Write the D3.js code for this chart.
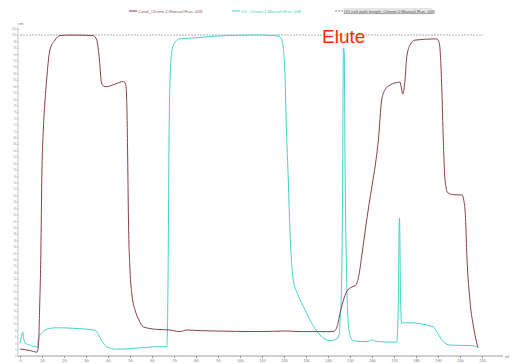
<!DOCTYPE html>
<html lang="en">
<head>
<meta charset="utf-8">
<script src="https://d3js.org/d3.v7.min.js"></script>
<style>
  body { margin: 0; background: #fff; }
  svg { display: block; font-family: "Liberation Sans", Arial, sans-serif; }
</style>
</head>
<body>
<div id="chart"></div>
<script>
// Cond trace: [ml, signal]
var condData = [
  [0,2.2],[4.5,1.7],[7.7,1.2],[8.4,3.4],[8.9,14.3],[9.5,33],[9.9,54.8],[10.6,70.4],[11.4,79.8],
  [12.1,86],[13.6,95.3],[15.9,98.4],[18.2,99.8],[22.7,100],[33.3,99.8],[34.9,98.4],[35.9,93.8],
  [37.1,85],[38.2,84],[39.4,83.9],[43.2,84.7],[47,85.5],[48,84.7],[48.5,79.8],[48.9,64.2],
  [49.3,42.4],[50,26.8],[50.9,19],[52.3,14.3],[54.1,11.2],[56,9.1],[62.1,8.3],[68.2,8.1],
  [72.7,7.6],[75.8,8.1],[81.8,7.9],[87.7,7.8],[109.1,7.6],[120.5,7.8],[127.3,7.6],[142.3,7.6],
  [143.9,8.7],[145.5,13.4],[146.8,16.9],[148.6,20.2],[150.9,21.5],[152.7,22.1],[154,25],
  [155.5,32],[157,39.5],[158.6,47],[160,53],[161.5,59.5],[162.9,67.3],[164.4,79.8],[165.9,82.9],[168.2,84.4],
  [172.7,85.3],[174,81.6],[175,86],[175.8,93.2],[177.3,96.9],[179.5,98.4],[189.4,98.8],
  [190.6,97.4],[191.7,83.9],[192.4,67.3],[193.2,54.8],[194.5,50.8],[197.7,50.2],[200.9,50.2],
  [202.3,45.5],[203.2,29.9],[204.5,17.4],[206.4,8.1],[208.2,2.5]
];

// UV trace: [ml, signal]
var uvData = [
  [0,4],[0.7,6.2],[1.2,7.5],[1.8,5],[2.3,4],[4.5,3.4],[6,2.9],[6.8,3.1],[7.7,2.6],[8.3,5],
  [9.5,6.9],[10.5,7.6],[13.6,8.6],[16.7,8.8],[25,8.6],[33.3,8.1],[34.9,7.6],[36.4,5.6],
  [39.4,2.9],[44,2.1],[51.5,2.4],[63.6,2.9],[66.7,2.9],[67,8.1],[67.4,33],[67.7,64.2],
  [68.2,86],[69.1,95.3],[70.5,97.8],[72.7,98.8],[79.5,99.1],[86.4,99.5],[93.2,99.8],
  [109.1,100],[117.3,99.7],[118.6,99.1],[119.5,96.9],[120.5,86],[121.1,70.4],[121.8,57.9],
  [122.7,39.3],[124.2,23.7],[126.4,19],[128.8,15.4],[131.8,11.2],[136.4,6.5],[140.9,4.8],
  [144,5.3],[145,6.5],[145.5,11.2],[146.2,23.7],[146.6,48.6],[147,96],[147.4,94.5],
  [147.7,64.2],[148.5,23.7],[149.1,11.2],[150,6.5],[151.4,4.7],[157.6,4.5],[159.9,5],
  [162.1,4.5],[171.2,4.3],[172,17.4],[172.3,39.3],[172.5,43],[173,17.4],[173.5,10.2],
  [175.8,10.4],[187.9,9.1],[189.4,7.6],[192.4,4.5],[195.5,3.4],[205.9,3.2],[207.6,2.9]
];

// UV cell path length (constant)
var pathLen = [[0,100],[210.5,100]];

var xTicks = d3.range(0, 211, 10);
var yTicks = d3.range(0, 103, 2);

var seriesNames = ["Cond_Chrom:1:Manual Run..008", "UV_Chrom:1:Manual Run..008", "UV cell path length_Chrom:1:Manual Run..008"];

var width = 526, height = 364;

var svg = d3.select("#chart").append("svg")
    .attr("width", width)
    .attr("height", height);

var x = d3.scaleLinear().domain([0, 210]).range([20, 482]);
var y = d3.scaleLinear().domain([0, 100]).range([356, 35]);

// X axis
var xAxis = svg.append("g")
    .attr("transform", "translate(0,356)")
    .call(d3.axisBottom(x).tickValues(xTicks).tickSize(2).tickPadding(1));
xAxis.select(".domain").remove();
xAxis.selectAll("line").attr("stroke", "#999");
xAxis.selectAll("text").attr("fill", "#777").style("font-size", "4px");
svg.append("line")
    .attr("x1", 18).attr("x2", 503).attr("y1", 356).attr("y2", 356)
    .attr("stroke", "#888").attr("stroke-width", 0.8);
svg.append("text").attr("x", 505).attr("y", 358)
    .attr("fill", "#777").style("font-size", "4px").text("ml");

// Y axis
var yAxis = svg.append("g")
    .attr("transform", "translate(18,0)")
    .call(d3.axisLeft(y).tickValues(yTicks).tickSize(1).tickPadding(0.5));
yAxis.select(".domain").remove();
yAxis.selectAll("line").attr("stroke", "#aaa");
yAxis.selectAll("text").attr("fill", "#999").style("font-size", "2.6px");
svg.append("line")
    .attr("x1", 18).attr("x2", 18).attr("y1", 28).attr("y2", 356)
    .attr("stroke", "#bbb").attr("stroke-width", 0.8);
svg.append("text").attr("x", 18).attr("y", 25)
    .attr("fill", "#777").style("font-size", "4px").text("cm");

var line = d3.line()
    .x(function(d) { return x(d[0]); })
    .y(function(d) { return y(d[1]); })
    .curve(d3.curveMonotoneX);

// path length dashed line
svg.append("path")
    .datum(pathLen)
    .attr("fill", "none")
    .attr("stroke", "#999")
    .attr("stroke-width", 0.8)
    .attr("stroke-dasharray", "2,1")
    .attr("d", d3.line().x(function(d) { return x(d[0]); }).y(function(d) { return y(d[1]); }));

svg.append("path")
    .datum(uvData)
    .attr("fill", "none")
    .attr("stroke", "#45d3cb")
    .attr("stroke-width", 1)
    .attr("d", line);

svg.append("path")
    .datum(condData)
    .attr("fill", "none")
    .attr("stroke", "#8e3d4a")
    .attr("stroke-width", 1)
    .attr("d", line);

// Legend
var legend = [
  {x: 129, color: "#8e3d4a", dash: null, text: "#9a5a62"},
  {x: 232, color: "#45d3cb", dash: null, text: "#45d3cb"},
  {x: 335, color: "#888", dash: "2,1", text: "#555"}
];
legend.forEach(function(l, i) {
  var g = svg.append("g").attr("transform", "translate(" + l.x + ",11)");
  if (i == 2) {
    g.append("rect").attr("x", 8.5).attr("y", -3).attr("width", 89).attr("height", 6).attr("fill", "#e6e6e6");
  }
  g.append("line").attr("x1", 0).attr("x2", 8).attr("y1", 0).attr("y2", 0)
    .attr("stroke", l.color).attr("stroke-width", 1)
    .attr("stroke-dasharray", l.dash);
  g.append("text").attr("x", 9).attr("y", 1.6)
    .attr("fill", l.text).style("font-size", "4.4px")
    .style("text-decoration", i == 2 ? "underline" : "none")
    .text(seriesNames[i]);
});

// annotation
svg.append("text")
    .attr("x", 322).attr("y", 43)
    .attr("fill", "#ff2a00")
    .style("font-size", "19px")
    .text("Elute");
</script>
</body>
</html>
